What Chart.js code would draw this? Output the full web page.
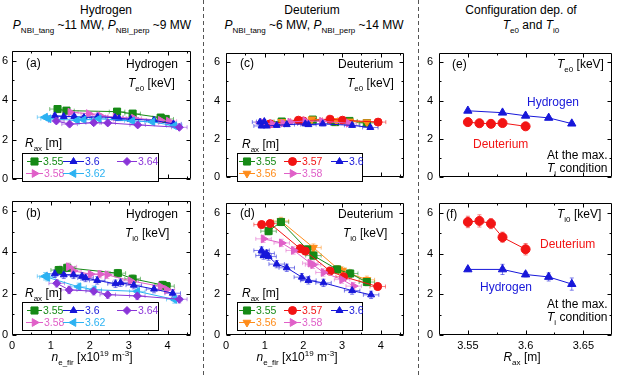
<!DOCTYPE html>
<html>
<head>
<meta charset="utf-8">
<script src="https://cdn.jsdelivr.net/npm/chart.js@4.4.1/dist/chart.umd.min.js"></script>
<style>
body { margin: 0; background: #fff; width: 618px; height: 378px; position: relative; overflow: hidden;
       font-family: "Liberation Sans", Arial, sans-serif; }
canvas { position: absolute; }
.t { position: absolute; font-size: 12px; line-height: 12px; white-space: nowrap; color: #000; }
.c { transform: translateX(-50%); }
.s { font-size: 8px; position: relative; top: 4px; }
.u { font-size: 8px; position: relative; top: -5px; }
.dash { position: absolute; top: 0; width: 1px; height: 378px;
        background: repeating-linear-gradient(to bottom, #555 0 4px, transparent 4px 7px); }
</style>
</head>
<body>
<div class="dash" style="left:203px"></div>
<div class="dash" style="left:418px"></div>
<canvas id="pa"></canvas><canvas id="pb"></canvas>
<canvas id="pc"></canvas><canvas id="pd"></canvas>
<canvas id="pe"></canvas><canvas id="pf"></canvas>
<script>
// ticks
const nMajor = [0, 1, 2, 3, 4];
const nLabels = ['0', '1', '2', '3', '4'];
const nMinor = [0.5, 1.5, 2.5, 3.5, 4.5];
const tMajor = [0, 2, 4, 6];
const tLabels = ['0', '2', '4', '6'];
const tMinor = [1, 3, 5];
const rMajor = [3.55, 3.6, 3.65];
const rLabels = ['3.55', '3.6', '3.65'];
const rMinor = [3.575, 3.625];

// (a) hydrogen Te0 vs n_e_fir, [n, Te]
const a355 = [[1.17, 3.55], [1.4, 3.47], [2.7, 3.42], [3.1, 3.32], [3.82, 3.12], [3.95, 3.05]];
const a358 = [[1.5, 3.39], [1.97, 3.32], [2.27, 3.21], [2.66, 3.14], [3.13, 3.09], [3.82, 2.98], [4.03, 2.94]];
const a360 = [[1.1, 3.21], [1.33, 3.17], [1.6, 3.17], [1.85, 3.12], [2.2, 3.16], [2.65, 3.12], [2.75, 3.07], [3.05, 3.04], [3.65, 2.98], [4.15, 2.8]];
const a362 = [[0.85, 3.14], [0.94, 3.06], [1.67, 2.98], [1.84, 3.01], [2.23, 3.06], [3.09, 2.95], [3.61, 2.9], [4.17, 2.71]];
const a364 = [[1.14, 2.95], [1.48, 2.79], [2.1, 2.86], [2.46, 2.85], [3.23, 2.75], [4.3, 2.63]];

// (b) hydrogen Ti0
const b355 = [[1.2, 3.14], [1.42, 3.25], [2.72, 2.99], [3.1, 2.72], [3.87, 2.42], [3.97, 2.36]];
const b358 = [[1.46, 3.3], [1.58, 3.1], [2.02, 2.94], [2.27, 2.94], [2.45, 2.91], [3.05, 2.62], [3.82, 2.35], [3.98, 2.2]];
const b360 = [[1.1, 2.96], [1.33, 2.91], [1.58, 2.91], [1.8, 2.84], [1.89, 2.76], [2.19, 2.64], [2.66, 2.48], [2.79, 2.53], [3.13, 2.41], [3.65, 2.22], [4.13, 2.02]];
const b362 = [[0.85, 2.84], [0.91, 2.79], [1.71, 2.33], [2.1, 2.19], [3.22, 2.11], [4.17, 1.72]];
const b364 = [[1.15, 2.5], [1.47, 2.18], [2.1, 2.12], [2.46, 1.95], [3.22, 1.89], [4.3, 1.73]];

// (c) deuterium Te0
const c355 = [[1.44, 2.91], [2.24, 3.01], [2.82, 2.88], [3.19, 2.94], [3.64, 2.83]];
const c356 = [[1.44, 2.9], [2.22, 3.03], [2.85, 2.95], [3.2, 2.92], [3.64, 2.88]];
const c357 = [[1.14, 2.79], [1.87, 2.98], [2.0, 2.94], [2.69, 3.03], [3.01, 2.98], [3.93, 2.88]];
const c358 = [[0.97, 2.85], [1.2, 2.78], [1.48, 2.83], [1.66, 2.88], [2.05, 2.94], [2.48, 2.92], [3.17, 2.82]];
const c360 = [[0.88, 2.88], [0.92, 2.68], [0.99, 2.91], [1.05, 2.68], [1.31, 2.71], [1.57, 2.75], [2.05, 2.79], [2.13, 2.75], [2.5, 2.79], [3.26, 2.71], [3.73, 2.6]];

// (d) deuterium Ti0
const d355 = [[1.1, 5.1], [1.42, 5.55], [2.1, 4.2], [2.26, 3.9], [2.87, 3.22], [3.21, 3.02], [3.64, 2.6]];
const d356 = [[1.42, 5.6], [2.26, 4.29], [2.91, 3.22], [3.0, 3.16], [3.64, 2.71]];
const d357 = [[0.92, 5.42], [1.14, 5.47], [1.92, 4.24], [2.05, 4.12], [2.69, 3.14], [3.04, 2.86], [3.92, 2.38]];
const d358 = [[0.97, 4.72], [1.44, 4.52], [1.75, 4.15], [2.18, 3.53], [2.25, 3.45], [2.52, 3.07], [3.0, 2.72], [3.3, 2.4]];
const d360 = [[0.92, 4.15], [0.97, 3.9], [1.05, 4.0], [1.1, 3.85], [1.31, 3.48], [1.57, 3.3], [1.96, 2.84], [2.13, 2.68], [2.52, 2.56], [3.26, 2.18], [3.75, 1.97]];

// error bar half widths [n, T]
const errTe = [0.2, 0.1];
const errTi = [0.2, 0.18];

// (e), (f) configuration dependence at max Ti
const rH = [3.55, 3.58, 3.6, 3.62, 3.64];
const teH = [3.47, 3.37, 3.21, 3.1, 2.8];
const tiH = [3.22, 3.22, 2.97, 2.85, 2.5];
const tiHErr = [0.1, 0.25, 0.12, 0.2, 0.3];
const rD = [3.55, 3.56, 3.57, 3.58, 3.6];
const teD = [2.88, 2.82, 2.79, 2.83, 2.66];
const tiD = [5.55, 5.6, 5.47, 4.8, 4.21];
const tiDErr = [0.28, 0.3, 0.25, 0.25, 0.28];

const family = '"Liberation Sans", Arial, sans-serif';
const sty = {
    s355: { color: '#168a16', shape: 'rect', r: 5, rot: 0 },
    s356: { color: '#ff8c1a', shape: 'triangle', r: 4.5, rot: 180 },
    s357: { color: '#f21414', shape: 'circle', r: 4, rot: 0 },
    s358: { color: '#e060c8', shape: 'triangle', r: 4.5, rot: 90 },
    s360: { color: '#1717d9', shape: 'triangle', r: 4, rot: 0 },
    s362: { color: '#2cb2f2', shape: 'triangle', r: 4.5, rot: -90 },
    s364: { color: '#8a34d8', shape: 'rectRot', r: 4, rot: 0 },
    hyd: { color: '#1717d9', shape: 'triangle', r: 4.8, rot: 0 },
    deu: { color: '#f21414', shape: 'circle', r: 4.5, rot: 0 }
};

function marker(ctx, st, x, y) {
    ctx.fillStyle = st.color;
    ctx.strokeStyle = st.color;
    ctx.lineWidth = 1;
    Chart.helpers.drawPoint(ctx, { pointStyle: st.shape, radius: st.r, rotation: st.rot, borderWidth: 1 }, x, y);
}

const errorBars = {
    id: 'errorBars',
    beforeDatasetsDraw(chart) {
        const { ctx, scales: { x, y } } = chart;
        ctx.save();
        ctx.lineWidth = 1;
        ctx.globalAlpha = 0.55;
        chart.data.datasets.forEach(d => {
            ctx.strokeStyle = d.borderColor;
            d.data.forEach((p, i) => {
                const ex = Array.isArray(d.errX) ? d.errX[i] : d.errX;
                const ey = Array.isArray(d.errY) ? d.errY[i] : d.errY;
                const px = x.getPixelForValue(p.x), py = y.getPixelForValue(p.y);
                ctx.beginPath();
                if (ex) {
                    const l = x.getPixelForValue(p.x - ex), r = x.getPixelForValue(p.x + ex);
                    ctx.moveTo(l, py); ctx.lineTo(r, py);
                    ctx.moveTo(l, py - 2); ctx.lineTo(l, py + 2);
                    ctx.moveTo(r, py - 2); ctx.lineTo(r, py + 2);
                }
                if (ey) {
                    const t = y.getPixelForValue(p.y + ey), b = y.getPixelForValue(p.y - ey);
                    ctx.moveTo(px, t); ctx.lineTo(px, b);
                    ctx.moveTo(px - 2, t); ctx.lineTo(px + 2, t);
                    ctx.moveTo(px - 2, b); ctx.lineTo(px + 2, b);
                }
                ctx.stroke();
            });
        });
        ctx.restore();
    }
};

const frame = {
    id: 'frame',
    afterDatasetsDraw(chart, args, o) {
        const { ctx, chartArea: a, scales: { x, y } } = chart;
        const L = Math.round(a.left) + 0.5, R = Math.round(a.right) - 0.5;
        const T = Math.round(a.top) + 0.5, B = Math.round(a.bottom) - 0.5;
        ctx.save();
        ctx.strokeStyle = '#000';
        ctx.lineWidth = 1;
        ctx.beginPath();
        ctx.rect(L, T, R - L, B - T);
        const tx = (vals, len) => vals.forEach(v => {
            const p = Math.round(x.getPixelForValue(v)) + 0.5;
            ctx.moveTo(p, B); ctx.lineTo(p, B - len);
            ctx.moveTo(p, T); ctx.lineTo(p, T + len);
        });
        const ty = (vals, len) => vals.forEach(v => {
            const p = Math.round(y.getPixelForValue(v)) + 0.5;
            ctx.moveTo(L, p); ctx.lineTo(L + len, p);
            ctx.moveTo(R, p); ctx.lineTo(R - len, p);
        });
        tx(o.xMajor, 4); tx(o.xMinor, 2);
        ty(o.yMajor, 4); ty(o.yMinor, 2);
        ctx.stroke();
        ctx.restore();
    }
};

const boxLegend = {
    id: 'boxLegend',
    afterDraw(chart, args, o) {
        if (!o.box) return;
        const { ctx } = chart;
        const [l, t, r, b] = o.box.map((v, i) => v - (i % 2 ? o.dy : o.dx));
        ctx.save();
        ctx.fillStyle = '#fff';
        ctx.fillRect(l, t, r - l, b - t);
        ctx.strokeStyle = '#000';
        ctx.lineWidth = 1;
        ctx.strokeRect(Math.round(l) + 0.5, Math.round(t) + 0.5, r - l, b - t);
        ctx.font = '10.5px ' + family;
        ctx.textBaseline = 'middle';
        o.items.forEach(it => {
            const x0 = it.x0 - o.dx, x1 = it.x1 - o.dx, y = it.y - o.dy;
            ctx.strokeStyle = it.st.color;
            ctx.beginPath(); ctx.moveTo(x0, y); ctx.lineTo(x1, y); ctx.stroke();
            marker(ctx, it.st, (x0 + x1) / 2, y);
            ctx.fillStyle = it.st.color;
            ctx.fillText(it.text, x1 + 1, y + 0.5);
        });
        ctx.restore();
    }
};

function pairs(arr) { return arr.map(p => ({ x: p[0], y: p[1] })); }
function zip(xs, ys) { return xs.map((v, i) => ({ x: v, y: ys[i] })); }

function ds(data, st, ex, ey) {
    return {
        data: data, showLine: true, borderColor: st.color, backgroundColor: st.color,
        borderWidth: 1, pointStyle: st.shape, pointRadius: st.r, pointRotation: st.rot,
        pointBorderWidth: 1, pointHoverRadius: st.r, errX: ex, errY: ey
    };
}

function panel(o) {
    const c = document.getElementById(o.id);
    c.style.left = o.left + 'px';
    c.style.top = o.top + 'px';
    c.width = o.w;
    c.height = o.h;
    const font = { size: 11, family: family };
    const legend = o.legend ? { box: o.legend.box, items: o.legend.items, dx: o.left, dy: o.top } : {};
    new Chart(c, {
        type: 'scatter',
        data: { datasets: o.datasets },
        options: {
            responsive: false,
            animation: false,
            events: [],
            layout: { padding: { top: o.padTop, right: o.padRight, left: 0, bottom: 0 } },
            plugins: {
                legend: { display: false },
                tooltip: { enabled: false },
                frame: { xMajor: o.xMajor, xMinor: o.xMinor, yMajor: tMajor, yMinor: tMinor },
                boxLegend: legend
            },
            scales: {
                x: {
                    type: 'linear', min: o.xMin, max: o.xMax,
                    grid: { display: false, drawTicks: false }, border: { display: false },
                    afterBuildTicks: s => { s.ticks = o.xMajor.map(v => ({ value: v })); },
                    afterFit: s => { s.height = o.xh; },
                    ticks: { display: o.showX, padding: 4, font: font, color: '#000', autoSkip: false,
                             maxRotation: 0, callback: (v, i) => o.xLabels[i] }
                },
                y: {
                    type: 'linear', min: 0, max: 6.5,
                    grid: { display: false, drawTicks: false }, border: { display: false },
                    afterBuildTicks: s => { s.ticks = tMajor.map(v => ({ value: v })); },
                    afterFit: s => { s.width = o.yw; },
                    ticks: { padding: o.yPad, font: font, color: '#000', autoSkip: false,
                             callback: (v, i) => tLabels[i] }
                }
            }
        },
        plugins: [errorBars, frame, boxLegend]
    });
}

const nAxis = { xMin: 0, xMax: 4.6, xMajor: nMajor, xMinor: nMinor, xLabels: nLabels };
const rAxis = { xMin: 3.525, xMax: 3.675, xMajor: rMajor, xMinor: rMinor, xLabels: rLabels };
const topRow = { top: 40, h: 150, padTop: 4, xh: 3, showX: false };
const botRow = { top: 190, h: 188, padTop: 3, xh: 43, showX: true };

function legH(y0) {
    return {
        box: [22, y0, 158, y0 + 28],
        items: [
            { st: sty.s355, x0: 27, x1: 42, y: y0 + 8.5, text: '3.55' },
            { st: sty.s360, x0: 63, x1: 84, y: y0 + 8.5, text: '3.6' },
            { st: sty.s364, x0: 117, x1: 137, y: y0 + 8.5, text: '3.64' },
            { st: sty.s358, x0: 26, x1: 43, y: y0 + 20.5, text: '3.58' },
            { st: sty.s362, x0: 63, x1: 84, y: y0 + 20.5, text: '3.62' }
        ]
    };
}
function legD(y0) {
    return {
        box: [237, y0, 362, y0 + 28],
        items: [
            { st: sty.s355, x0: 239, x1: 255, y: y0 + 8.5, text: '3.55' },
            { st: sty.s357, x0: 284, x1: 301, y: y0 + 8.5, text: '3.57' },
            { st: sty.s360, x0: 331, x1: 348, y: y0 + 8.5, text: '3.6' },
            { st: sty.s356, x0: 239, x1: 255, y: y0 + 20.5, text: '3.56' },
            { st: sty.s358, x0: 284, x1: 301, y: y0 + 20.5, text: '3.58' }
        ]
    };
}

panel(Object.assign({ id: 'pa', left: 0, w: 200, yw: 12, padRight: 9, yPad: 4, legend: legH(153),
    datasets: [ds(pairs(a364), sty.s364, errTe[0], errTe[1]), ds(pairs(a362), sty.s362, errTe[0], errTe[1]),
               ds(pairs(a360), sty.s360, errTe[0], errTe[1]), ds(pairs(a358), sty.s358, errTe[0], errTe[1]),
               ds(pairs(a355), sty.s355, errTe[0], errTe[1])] }, topRow, nAxis));
panel(Object.assign({ id: 'pb', left: 0, w: 200, yw: 12, padRight: 9, yPad: 4, legend: legH(302),
    datasets: [ds(pairs(b364), sty.s364, errTi[0], errTi[1]), ds(pairs(b362), sty.s362, errTi[0], errTi[1]),
               ds(pairs(b360), sty.s360, errTi[0], errTi[1]), ds(pairs(b358), sty.s358, errTi[0], errTi[1]),
               ds(pairs(b355), sty.s355, errTi[0], errTi[1])] }, botRow, nAxis));
panel(Object.assign({ id: 'pc', left: 205, w: 205, yw: 21, padRight: 6, yPad: 6, legend: legD(153),
    datasets: [ds(pairs(c360), sty.s360, errTe[0], errTe[1]), ds(pairs(c358), sty.s358, errTe[0], errTe[1]),
               ds(pairs(c357), sty.s357, errTe[0], errTe[1]), ds(pairs(c356), sty.s356, errTe[0], errTe[1]),
               ds(pairs(c355), sty.s355, errTe[0], errTe[1])] }, topRow, nAxis));
panel(Object.assign({ id: 'pd', left: 205, w: 205, yw: 21, padRight: 6, yPad: 6, legend: legD(302),
    datasets: [ds(pairs(d360), sty.s360, errTi[0], errTi[1]), ds(pairs(d358), sty.s358, errTi[0], errTi[1]),
               ds(pairs(d357), sty.s357, errTi[0], errTi[1]), ds(pairs(d355), sty.s355, errTi[0], errTi[1]),
               ds(pairs(d356), sty.s356, errTi[0], errTi[1])] }, botRow, nAxis));
panel(Object.assign({ id: 'pe', left: 418, w: 200, yw: 21, padRight: 4, yPad: 6,
    datasets: [ds(zip(rH, teH), sty.hyd, 0, 0), ds(zip(rD, teD), sty.deu, 0, 0)] }, topRow, rAxis));
panel(Object.assign({ id: 'pf', left: 418, w: 200, yw: 21, padRight: 4, yPad: 6,
    datasets: [ds(zip(rH, tiH), sty.hyd, 0, tiHErr), ds(zip(rD, tiD), sty.deu, 0, tiDErr)] }, botRow, rAxis));

// text
const T = s => '<i>T</i><span class="s">' + s + '</span>';
const rax = '<i>R</i><span class="s">ax</span> [m]';
const nfir = '<i>n</i><span class="s">e_fir</span> [x10<span class="u">19</span> m<span class="u">-3</span>]';
const notes = [
    [106, 10, 'Hydrogen', 1],
    [102, 25, '<i>P</i><span class="s">NBI_tang</span> ~11 MW, <i>P</i><span class="s">NBI_perp</span> ~9 MW', 1],
    [312, 10, 'Deuterium', 1],
    [314, 25, '<i>P</i><span class="s">NBI_tang</span> ~6 MW, <i>P</i><span class="s">NBI_perp</span> ~14 MW', 1],
    [521, 10, 'Configuration dep. of', 1],
    [531, 25, T('e0') + ' and ' + T('i0'), 1],
    [26, 63, '(a)'], [126, 64, 'Hydrogen'], [128, 83, T('e0') + ' [keV]'], [25, 143, rax],
    [26, 213, '(b)'], [126, 214, 'Hydrogen'], [125, 233, T('i0') + ' [keV]'], [25, 293, rax],
    [240, 63, '(c)'], [338, 64, 'Deuterium'], [347, 83, T('e0') + ' [keV]'], [242, 144, rax],
    [240, 213, '(d)'], [338, 214, 'Deuterium'], [343, 233, T('i0') + ' [keV]'], [242, 293, rax],
    [452, 64, '(e)'], [557, 64, T('e0') + ' [keV]'],
    [527, 102, '<span style="color:#1717d9">Hydrogen</span>'],
    [473, 144, '<span style="color:#f21414">Deuterium</span>'],
    [547, 155, 'At the max.'], [547, 168, T('i') + ' condition'],
    [446, 214, '(f)'], [557, 214, T('i0') + ' [keV]'],
    [540, 244, '<span style="color:#f21414">Deuterium</span>'],
    [480, 287, '<span style="color:#1717d9">Hydrogen</span>'],
    [547, 304, 'At the max.'], [547, 317, T('i') + ' condition'],
    [92, 357, nfir, 1], [297, 357, nfir, 1], [522, 357, rax, 1]
];
notes.forEach(n => {
    const d = document.createElement('div');
    d.className = 't' + (n[3] ? ' c' : '');
    d.style.left = n[0] + 'px';
    d.style.top = (n[1] - 6) + 'px';
    d.innerHTML = n[2];
    document.body.appendChild(d);
});
</script>
</body>
</html>
